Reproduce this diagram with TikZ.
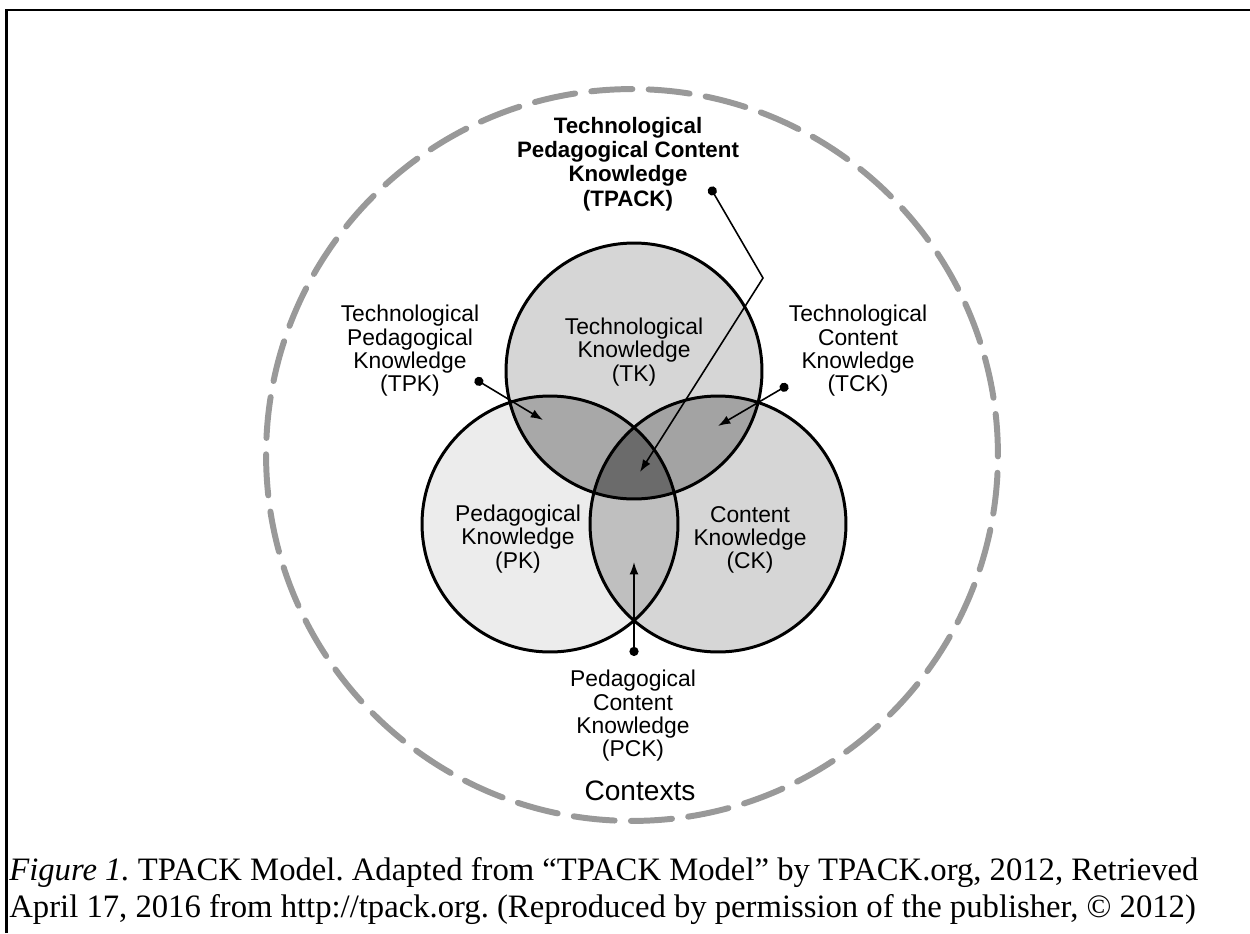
\documentclass[tikz,border=0pt]{standalone}
\usepackage{fontspec}
\setmainfont{Liberation Serif}
\newfontfamily\labelfont{Liberation Sans}
\usetikzlibrary{arrows.meta, positioning}
\definecolor{pkgray}{HTML}{ECECEC}
\definecolor{tkgray}{HTML}{D6D6D6}
\definecolor{ckgray}{HTML}{D6D6D6}
\definecolor{tpkgray}{HTML}{A8A8A8}
\definecolor{tckgray}{HTML}{A3A3A3}
\definecolor{pckgray}{HTML}{BFBFBF}
\definecolor{tpackgray}{HTML}{6B6B6B}
\definecolor{contextgray}{HTML}{999999}
\newcommand{\setradius}{2.56cm}
\frenchspacing
\tikzset{x = 0.02cm, y = -0.02cm,
         area/.style = {draw, line width = 1.7pt},
         context/.style = {draw = contextgray, line width = 3.4pt, line cap = round,
                           dash pattern = on 23.4pt off 9.3pt},
         lbl/.style = {font = \labelfont\fontsize{13}{13.3}\selectfont,
                       align = center, inner sep = 0pt},
         pointer/.style = {{Circle[length = 5.2pt]}-{Latex[length = 7pt, width = 5pt]},
                           line width = 0.9pt},
         caption/.style = {font = \fontsize{18.6}{21}\selectfont, inner sep = 0pt,
                           anchor = base west}}

\begin{document}
\begin{tikzpicture}
        \useasboundingbox (0,0) rectangle (1250,933);
        \draw[line width = 1.7pt] (6.5,933) -- (6.5,10) -- (1250,10);

        % the three knowledge circles
        \coordinate (pk)  at (550,524);
        \coordinate (ck)  at (718,524);
        \coordinate (tk)  at (634,371);
        \coordinate (mid) at (632,455);

        \draw[context] (mid) circle[radius = 7.32cm];

        \fill[pkgray] (pk) circle[radius = \setradius];
        \fill[ckgray] (ck) circle[radius = \setradius];
        \fill[tkgray] (tk) circle[radius = \setradius];
        \begin{scope}
            \clip (pk) circle[radius = \setradius];
            \fill[pckgray] (ck) circle[radius = \setradius];
        \end{scope}
        \begin{scope}
            \clip (tk) circle[radius = \setradius];
            \fill[tpkgray] (pk) circle[radius = \setradius];
            \fill[tckgray] (ck) circle[radius = \setradius];
            \clip (pk) circle[radius = \setradius];
            \fill[tpackgray] (ck) circle[radius = \setradius];
        \end{scope}
        \foreach \c in {pk, ck, tk}
            \draw[area] (\c) circle[radius = \setradius];

        % labels
        \node[lbl] (tklbl)  at (634,352) {Technological\\Knowledge\\(TK)};
        \node[lbl] (pklbl)  at (518,539) {Pedagogical\\Knowledge\\(PK)};
        \node[lbl] (cklbl)  at (750,540) {Content\\Knowledge\\(CK)};
        \node[lbl] (tpklbl) at (410,351) {Technological\\Pedagogical\\Knowledge\\(TPK)};
        \node[lbl] (tcklbl) at (858,351) {Technological\\Content\\Knowledge\\(TCK)};
        \node[lbl] (pcklbl) at (633,716) {Pedagogical\\Content\\Knowledge\\(PCK)};
        \node[lbl, font = \labelfont\bfseries\fontsize{12.7}{13.8}\selectfont]
                   (tpacklbl) at (628,164) {Technological\\Pedagogical Content\\Knowledge\\(TPACK)};
        \node[lbl, font = \labelfont\fontsize{16}{18}\selectfont, anchor = base]
                   (ctxlbl) at (640,800) {Contexts};

        % pointers
        \coordinate (tpkdot)   at (475,379);  \coordinate (tpktip)   at (543,420);
        \coordinate (tckdot)   at (788,385);  \coordinate (tcktip)   at (718,426);
        \coordinate (pckdot)   at (634,656);  \coordinate (pcktip)   at (634,562);
        \coordinate (tpackdot) at (710,187);  \coordinate (tpacktip) at (640,472);
        \coordinate (tpackbend) at (763,278);
        \draw[pointer] (tpkdot) -- (tpktip);
        \draw[pointer] (tckdot) -- (tcktip);
        \draw[pointer] (pckdot) -- (pcktip);
        \draw[pointer] (tpackdot) -- (tpackbend) -- (tpacktip);

        % caption
        \node[caption] (cap1) at (9,880)
            {\textit{Figure 1.} TPACK Model. Adapted from “TPACK Model” by TPACK.org, 2012, Retrieved};
        \node[caption] (cap2) at (9,917)
            {April 17, 2016 from http://tpack.org. (Reproduced by permission of the publisher, © 2012)};
\end{tikzpicture}
\end{document}
